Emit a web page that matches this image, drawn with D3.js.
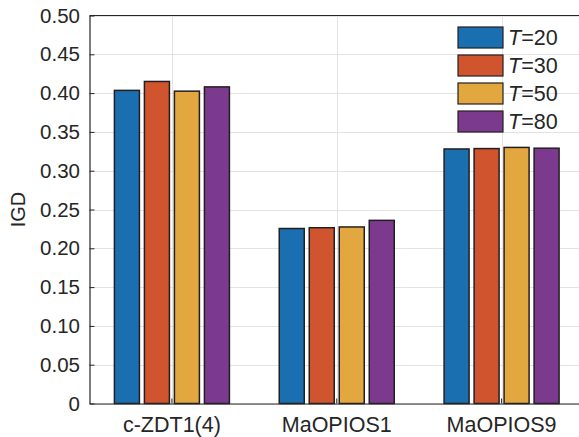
<!DOCTYPE html>
<html>
<head>
<meta charset="utf-8">
<script src="https://cdn.jsdelivr.net/npm/d3@7"></script>
<style>
  html, body { margin: 0; padding: 0; background: #fff; }
  svg { display: block; font-family: Arial, "Liberation Sans", Helvetica, sans-serif; }
</style>
</head>
<body>
<svg id="chart" width="579" height="437"></svg>
<script>
const categories = ["c-ZDT1(4)", "MaOPIOS1", "MaOPIOS9"];
const seriesNames = ["20", "30", "50", "80"];
const seriesColors = ["#1a6fb0", "#d0552f", "#e2a83f", "#7b3a8e"];
const valuesT20 = [0.4035, 0.2255, 0.3280];
const valuesT30 = [0.4150, 0.2265, 0.3285];
const valuesT50 = [0.4025, 0.2275, 0.3300];
const valuesT80 = [0.4080, 0.2360, 0.3290];
const seriesValues = [valuesT20, valuesT30, valuesT50, valuesT80];
const yTicks = [0, 0.05, 0.10, 0.15, 0.20, 0.25, 0.30, 0.35, 0.40, 0.45, 0.50];
const yLabel = "IGD";

const svg = d3.select("#chart");
const margin = { left: 89.5, top: 15.5, right: -5, bottom: 33.5 };
const W = 579, H = 437;
const x0 = margin.left, x1 = W - margin.right;
const yTop = margin.top, yBot = H - margin.bottom;

const x = d3.scaleBand().domain(categories).range([x0, x1]).paddingInner(0).paddingOuter(0);
const xs = d3.scaleBand().domain(seriesNames).range([0, 115]).paddingInner(1 / 6).paddingOuter(0);
const y = d3.scaleLinear().domain([0, 0.5]).range([yBot, yTop]);

// grid
const g = svg.append("g");
g.selectAll(".hg").data(yTicks).join("line")
  .attr("x1", x0).attr("x2", x1)
  .attr("y1", d => Math.round(y(d)) + 0.5).attr("y2", d => Math.round(y(d)) + 0.5)
  .attr("stroke", "#e3e3e3").attr("stroke-width", 1);
g.selectAll(".vg").data(categories).join("line")
  .attr("x1", d => Math.round(x(d) + x.bandwidth() / 2) + 0.5)
  .attr("x2", d => Math.round(x(d) + x.bandwidth() / 2) + 0.5)
  .attr("y1", yTop).attr("y2", yBot)
  .attr("stroke", "#e3e3e3").attr("stroke-width", 1);

// bars
const groups = svg.append("g").selectAll("g").data(seriesNames).join("g")
  .attr("fill", (d, i) => seriesColors[i]);
groups.selectAll("rect").data((s, i) => categories.map((c, j) => ({ c, s, v: seriesValues[i][j] })))
  .join("rect")
  .attr("x", d => x(d.c) + x.bandwidth() / 2 - 57.5 + xs(d.s))
  .attr("width", xs.bandwidth())
  .attr("y", d => y(d.v))
  .attr("height", d => y(0) - y(d.v))
  .attr("stroke", "#231f20").attr("stroke-width", 1.5);

// axes
const axisColor = "#262626";
const yAxis = d3.axisLeft(y).tickValues(yTicks)
  .tickFormat(d => d === 0 ? "0" : d3.format(".2f")(d))
  .tickSizeInner(-5).tickSizeOuter(0).tickPadding(9.5);
const ya = svg.append("g").attr("transform", `translate(${x0},0)`).call(yAxis);
ya.select(".domain").attr("stroke", axisColor).attr("stroke-width", 1.2);
ya.selectAll(".tick line").attr("stroke", axisColor);
ya.selectAll(".tick text").attr("fill", axisColor).attr("font-size", 20.5);

const xAxis = d3.axisBottom(x).tickSizeInner(-5).tickSizeOuter(0).tickPadding(13);
const xa = svg.append("g").attr("transform", `translate(0,${yBot})`).call(xAxis);
xa.select(".domain").attr("stroke", axisColor).attr("stroke-width", 1.2);
xa.selectAll(".tick line").attr("stroke", axisColor);
xa.selectAll(".tick text").attr("fill", axisColor).attr("font-size", 21.5);

// top border
svg.append("line").attr("x1", x0).attr("x2", x1).attr("y1", yTop).attr("y2", yTop)
  .attr("stroke", axisColor).attr("stroke-width", 1.2);

// y label
svg.append("text")
  .attr("transform", `translate(25,${(yTop + yBot) / 2}) rotate(-90)`)
  .attr("text-anchor", "middle").attr("fill", axisColor).attr("font-size", 20)
  .text(yLabel);

// legend
const lg = svg.append("g").attr("transform", "translate(458,27)");
const li = lg.selectAll("g").data(seriesNames).join("g")
  .attr("transform", (d, i) => `translate(0,${i * 28})`);
li.append("rect").attr("width", 45).attr("height", 21)
  .attr("fill", (d, i) => seriesColors[i]).attr("stroke", "#231f20").attr("stroke-width", 1.2);
const lt = li.append("text").attr("x", 50).attr("y", 18)
  .attr("fill", axisColor).attr("font-size", 21.5);
lt.append("tspan").attr("font-style", "italic").text("T");
lt.append("tspan").text(d => "=" + d);
</script>
</body>
</html>
